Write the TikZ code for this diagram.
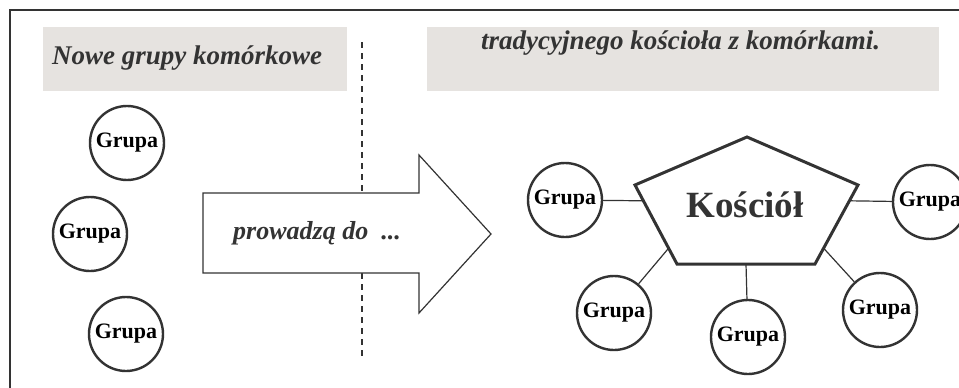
\documentclass[tikz,border=0pt]{standalone}
\usepackage{fontspec}
\setmainfont{Liberation Serif}
\usepackage{tikz}
\usetikzlibrary{calc}
\definecolor{ink}{HTML}{333333}
\definecolor{boxgray}{HTML}{E6E3E0}
\tikzset{
  grupa/.style={shape=circle,draw=ink,line width=2.4pt,fill=white,inner sep=0pt,
    minimum size=74pt,font=\fontsize{22}{22}\selectfont\bfseries},
  title/.style={font=\fontsize{27}{27}\selectfont\bfseries\itshape,text=ink,inner sep=0pt},
  link/.style={draw=ink,line width=1.2pt}
}
\newcommand{\grupa}[3]{\node[grupa] (#1) at ( #2 , #3 ) {Grupa};}

\begin{document}
\begin{tikzpicture}[x=1pt,y=-1pt]
        \useasboundingbox (0,0) rectangle (959,388);
        \clip (0,0) rectangle (959,388);
        \draw[ink,line width=2pt] (10,400) -- (10,10) -- (970,10);

        % headers
        \fill[boxgray] (43,27) rectangle (347,91);
        \fill[boxgray] (427,27) rectangle (939,91);
        \node[title,anchor=west] (nowe) at (52,58) {Nowe grupy komórkowe};
        \node[title,anchor=west] (trad) at (481,43) {tradycyjnego kościoła z komórkami.};

        % divider
        \draw[ink,line width=1.5pt,dash pattern=on 6pt off 5pt] (362,42) -- (362,357);

        % arrow
        \coordinate (a1) at (203,193);
        \coordinate (a2) at (419,193);
        \coordinate (a3) at (419,155);
        \coordinate (a4) at (491,234);
        \coordinate (a5) at (419,313);
        \coordinate (a6) at (419,273);
        \coordinate (a7) at (203,273);
        \filldraw[fill=white,draw=ink,line width=1.2pt] (a1) -- (a2) -- (a3) -- (a4) -- (a5) -- (a6) -- (a7) -- cycle;
        \node[title,anchor=west,font=\fontsize{26}{26}\selectfont\bfseries\itshape] (prow) at (233,233) {prowadzą do\ \ ...};

        % left groups
        \grupa{g1}{127}{143}
        \grupa{g2}{90}{234}
        \grupa{g3}{126}{334}

        % church
        \coordinate (top) at (747,137);
        \coordinate (ul) at (635,185);
        \coordinate (ur) at (858,185);
        \coordinate (bl) at (677,264);
        \coordinate (br) at (815,264);
        \draw[ink,line width=3pt,line join=miter] (top) -- (ur) -- (br) -- (bl) -- (ul) -- cycle;
        \node[font=\fontsize{37}{37}\selectfont\bfseries,text=ink] (kosciol) at (745,205) {Kościół};

        % right groups
        \grupa{g4}{565}{200}
        \grupa{g5}{930}{202}
        \grupa{g6}{614}{313}
        \grupa{g7}{748}{337}
        \grupa{g8}{880}{310}

        \draw[link] (g4) -- ($(ul)!0.2!(bl)$);
        \draw[link] (g5) -- ($(ur)!0.2!(br)$);
        \draw[link] (g6) -- ($(ul)!0.8!(bl)$);
        \draw[link] (g7) -- ($(bl)!0.5!(br)$);
        \draw[link] (g8) -- ($(ur)!0.8!(br)$);
\end{tikzpicture}
\end{document}
